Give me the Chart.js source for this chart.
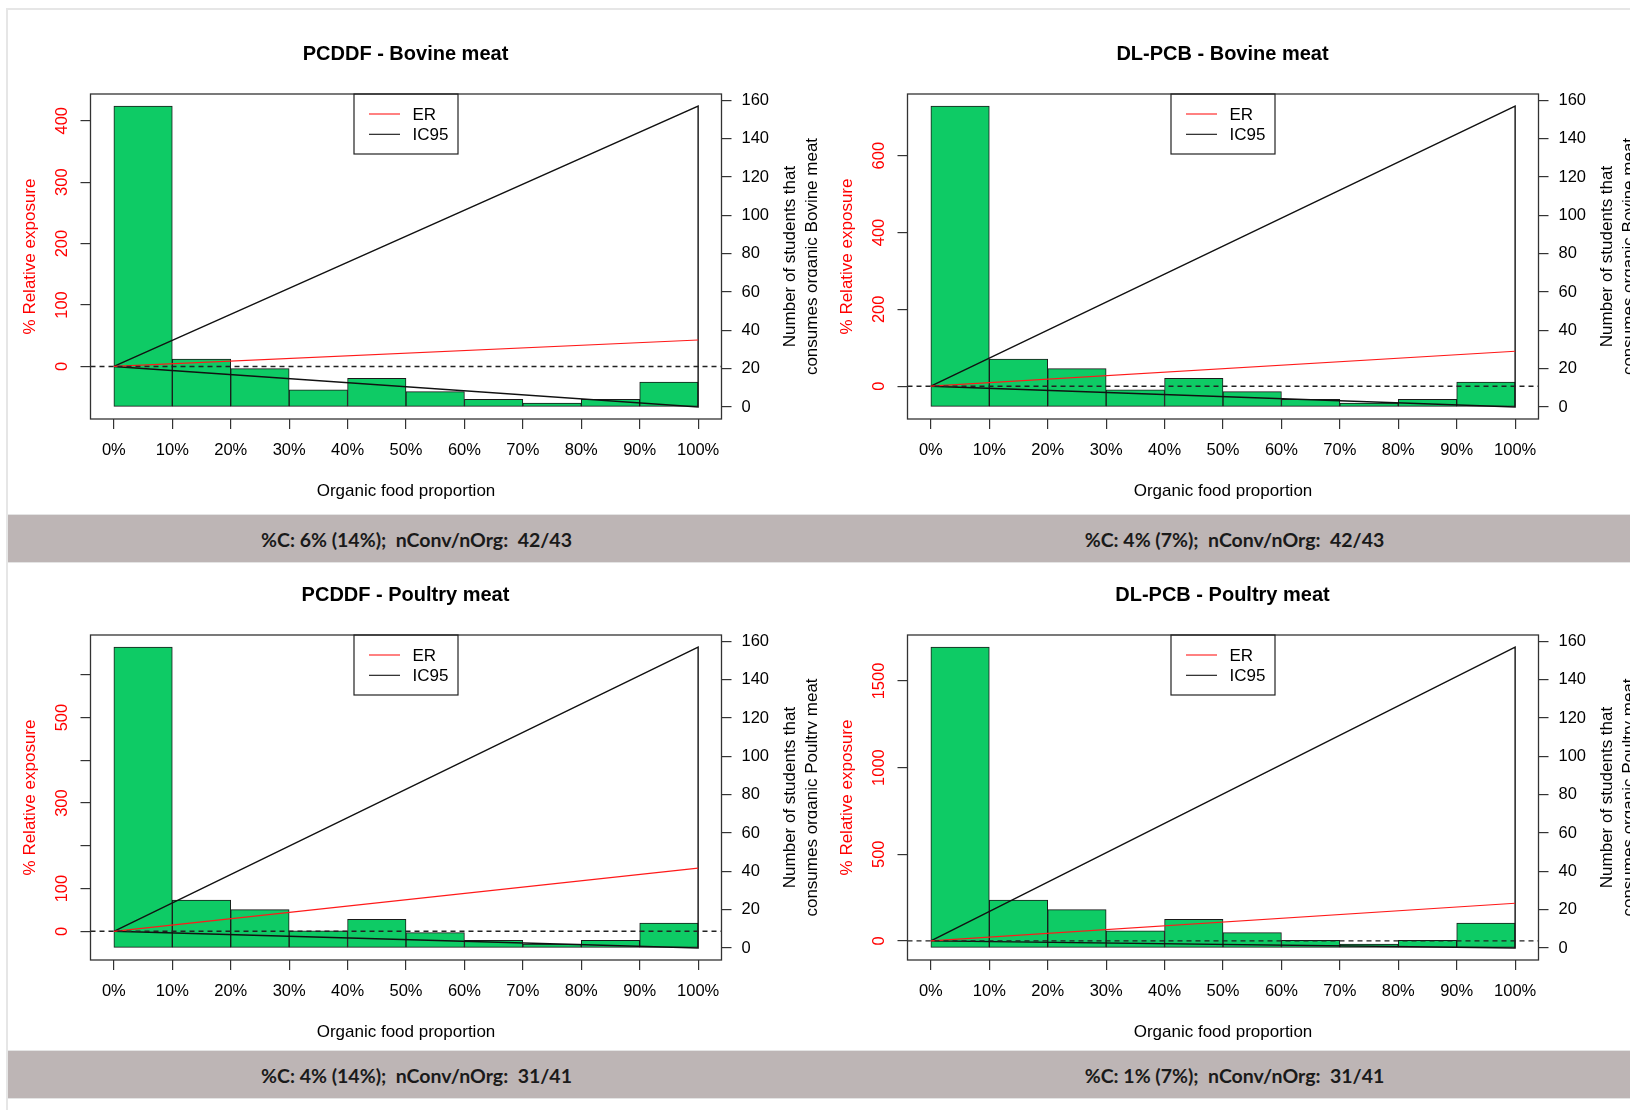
<!DOCTYPE html>
<html><head><meta charset="utf-8">
<script src="https://cdn.jsdelivr.net/npm/chart.js@4.4.1/dist/chart.umd.min.js"></script>
<style>
html,body{margin:0;padding:0;background:#fff;width:1630px;height:1110px;overflow:hidden;position:relative;}
.frame-top{position:absolute;left:6px;top:8px;width:1624px;height:2px;background:#e6e6e6;}
.frame-left{position:absolute;left:6px;top:8px;width:2px;height:1102px;background:#e6e6e6;}
.panel{position:absolute;width:817px;height:515px;z-index:1;}
.band{position:absolute;left:8px;width:1622px;background:#bdb5b5;border-top:1px solid #e4e4e4;border-bottom:1px solid #e4e4e4;z-index:2;}
.band span{position:absolute;top:50%;transform:translate(-50%,-50%);font-family:Lato,"Open Sans",sans-serif;font-weight:700;font-size:19.5px;color:#1a1a1a;white-space:pre;}
</style></head>
<body>
<div class="frame-top"></div><div class="frame-left"></div>
<canvas id="c0" class="panel" width="817" height="515" style="left:0;top:0"></canvas>
<canvas id="c1" class="panel" width="817" height="515" style="left:817px;top:0"></canvas>
<canvas id="c2" class="panel" width="817" height="515" style="left:0;top:541px"></canvas>
<canvas id="c3" class="panel" width="817" height="515" style="left:817px;top:541px"></canvas>
<div class="band" id="band0" style="top:514px;height:47px"></div>
<div class="band" id="band1" style="top:1050px;height:47px"></div>
<script>
// ---------- data ----------
const panelTitles = ['PCDDF - Bovine meat', 'DL-PCB - Bovine meat', 'PCDDF - Poultry meat', 'DL-PCB - Poultry meat'];
const foodNames = ['Bovine', 'Bovine', 'Poultry', 'Poultry'];
const binEdges = [0, 10, 20, 30, 40, 50, 60, 70, 80, 90, 100];
const xTickValues = [0, 10, 20, 30, 40, 50, 60, 70, 80, 90, 100];
const xTickLabels = ['0%', '10%', '20%', '30%', '40%', '50%', '60%', '70%', '80%', '90%', '100%'];
const studentsBovine = [157, 25, 20, 9, 15, 8, 4, 2, 4, 13];
const studentsPoultry = [157, 25, 20, 9, 15, 8, 4, 2, 4, 13];
const rightTickValues = [0, 20, 40, 60, 80, 100, 120, 140, 160];
const rightTickLabels = ['0', '20', '40', '60', '80', '100', '120', '140', '160'];
const lineX = [0, 100];
const erPcddfBovine = [0, 43];
const icUpperPcddfBovine = [0, 424];
const icLowerPcddfBovine = [0, -66];
const erPcbBovine = [0, 91];
const icUpperPcbBovine = [0, 729];
const icLowerPcbBovine = [0, -54];
const erPcddfPoultry = [0, 148];
const icUpperPcddfPoultry = [0, 665];
const icLowerPcddfPoultry = [0, -39];
const erPcbPoultry = [0, 217];
const icUpperPcbPoultry = [0, 1696];
const icLowerPcbPoultry = [0, -41];
const leftTicksPcddfBovine = [0, 100, 200, 300, 400];
const leftLabelsPcddfBovine = ['0', '100', '200', '300', '400'];
const leftTicksPcbBovine = [0, 200, 400, 600];
const leftLabelsPcbBovine = ['0', '200', '400', '600'];
const leftTicksPcddfPoultry = [0, 100, 200, 300, 400, 500, 600];
const leftLabelsPcddfPoultry = ['0', '100', '', '300', '', '500', ''];
const leftTicksPcbPoultry = [0, 500, 1000, 1500];
const leftLabelsPcbPoultry = ['0', '500', '1000', '1500'];
const legendLabels = ['ER', 'IC95'];
const xTitle = 'Organic food proportion';
const leftTitle = '% Relative exposure';
const summaryTexts = ['%C: 6% (14%);  nConv/nOrg:  42/43', '%C: 4% (7%);  nConv/nOrg:  42/43',
                      '%C: 4% (14%);  nConv/nOrg:  31/41', '%C: 1% (7%);  nConv/nOrg:  31/41'];

// ---------- setup ----------
const FONT = '"Liberation Sans", Arial, Helvetica, sans-serif';
Chart.defaults.font.family = FONT;
Chart.defaults.color = '#000';

const panels = [
  {er: erPcddfBovine, up: icUpperPcddfBovine, lo: icLowerPcddfBovine, counts: studentsBovine, lt: leftTicksPcddfBovine, ll: leftLabelsPcddfBovine},
  {er: erPcbBovine, up: icUpperPcbBovine, lo: icLowerPcbBovine, counts: studentsBovine, lt: leftTicksPcbBovine, ll: leftLabelsPcbBovine},
  {er: erPcddfPoultry, up: icUpperPcddfPoultry, lo: icLowerPcddfPoultry, counts: studentsPoultry, lt: leftTicksPcddfPoultry, ll: leftLabelsPcddfPoultry},
  {er: erPcbPoultry, up: icUpperPcbPoultry, lo: icLowerPcbPoultry, counts: studentsPoultry, lt: leftTicksPcbPoultry, ll: leftLabelsPcbPoultry}
];

const TICK_FONT = 16.5, TITLE_FONT = 17;
const measureCtx = document.createElement('canvas').getContext('2d');
measureCtx.font = TICK_FONT + 'px ' + FONT;

const decorPlugin = {
  id: 'decor',
  afterDatasetsDraw(chart, args, opts) {
    const {ctx, chartArea: a, scales} = chart;
    ctx.save();
    // dashed zero reference line
    const y0 = scales.y.getPixelForValue(0);
    ctx.strokeStyle = '#222'; ctx.lineWidth = 1.4; ctx.setLineDash([5, 4]);
    ctx.beginPath(); ctx.moveTo(a.left, y0); ctx.lineTo(a.right, y0); ctx.stroke();
    ctx.setLineDash([]);
    // plot box
    ctx.strokeStyle = '#333'; ctx.lineWidth = 1.3;
    ctx.strokeRect(a.left, a.top, a.right - a.left, a.bottom - a.top);
    // legend box (top centre, inside)
    const cx = (a.left + a.right) / 2;
    const bx = cx - 52, by = a.top, bw = 104, bh = 60;
    ctx.lineWidth = 1.2; ctx.strokeStyle = '#222';
    ctx.strokeRect(bx, by, bw, bh);
    const lineSets = chart.data.datasets.filter(d => d.type === 'line');
    ctx.font = TITLE_FONT + 'px ' + FONT; ctx.textBaseline = 'middle'; ctx.textAlign = 'left';
    lineSets.forEach((d, i) => {
      const ly = by + 20 + i * 20.3;
      ctx.strokeStyle = d.borderColor; ctx.lineWidth = 1.1;
      ctx.beginPath(); ctx.moveTo(bx + 15, ly); ctx.lineTo(bx + 46, ly); ctx.stroke();
      ctx.fillStyle = '#000';
      ctx.fillText(d.label, bx + 58.5, ly + 1);
    });
    ctx.restore();
  },
  afterDraw(chart, args, opts) {
    const {ctx, chartArea: a} = chart;
    ctx.save();
    ctx.font = TITLE_FONT + 'px ' + FONT; ctx.fillStyle = '#000';
    ctx.textAlign = 'center'; ctx.textBaseline = 'middle';
    const cy = (a.top + a.bottom) / 2;
    opts.lines.forEach((t, i) => {
      ctx.save();
      ctx.translate(a.right + 69 + i * 22, cy);
      ctx.rotate(-Math.PI / 2);
      ctx.fillText(t, 0, 0);
      ctx.restore();
    });
    ctx.restore();
  }
};

panels.forEach((p, k) => {
  const allLine = [...p.er, ...p.up, ...p.lo];
  const lmin = Math.min(...allLine), lmax = Math.max(...allLine);
  const lpad = 0.04 * (lmax - lmin);
  const cmax = Math.max(...p.counts);
  const cpad = 0.04 * cmax;
  const widest = Math.max(...p.ll.map(s => measureCtx.measureText(s).width));
  const leftPad = 18.5 - widest / 2;

  const bars = p.counts.map((c, i) => ({x: (binEdges[i] + binEdges[i + 1]) / 2, y: c}));
  const erPts = lineX.map((x, i) => ({x, y: p.er[i]}));
  const icPts = [
    {x: lineX[0], y: p.up[0]}, {x: lineX[1], y: p.up[1]},
    {x: lineX[1], y: p.lo[1]}, {x: lineX[0], y: p.lo[0]}
  ];

  new Chart(document.getElementById('c' + k), {
    type: 'bar',
    data: {
      datasets: [
        {type: 'line', label: legendLabels[0], data: erPts, borderColor: '#ff1a1a', borderWidth: 1.2,
         pointRadius: 0, tension: 0, fill: false, yAxisID: 'y', xAxisID: 'x', order: 1},
        {type: 'line', label: legendLabels[1], data: icPts, borderColor: '#111', borderWidth: 1.4,
         pointRadius: 0, tension: 0, fill: false, yAxisID: 'y', xAxisID: 'x', order: 1},
        {type: 'bar', label: 'students', data: bars, backgroundColor: '#0ecb65', borderColor: '#1a1a1a',
         borderWidth: 1, borderSkipped: false, barPercentage: 1, categoryPercentage: 1,
         yAxisID: 'y2', xAxisID: 'x', order: 2}
      ]
    },
    options: {
      responsive: false, animation: false, devicePixelRatio: 1,
      layout: {padding: {left: 0, right: 6, top: 0, bottom: 0}, autoPadding: false},
      plugins: {
        legend: {display: false}, tooltip: {enabled: false},
        title: {display: true, text: panelTitles[k], color: '#000',
                font: {size: 20, weight: 'bold', family: FONT}, padding: {top: 42, bottom: 28}},
        decor: {lines: ['Number of students that', 'consumes organic ' + foodNames[k] + ' meat']}
      },
      scales: {
        x: {
          type: 'linear', position: 'bottom', min: -4, max: 104, offset: false,
          afterBuildTicks: s => { s.ticks = xTickValues.map(v => ({value: v})); },
          afterFit: s => { s.height = 96; },
          ticks: {callback: (v, i) => xTickLabels[i], font: {size: TICK_FONT}, color: '#000',
                  padding: 12, maxRotation: 0, minRotation: 0, autoSkip: false},
          grid: {drawOnChartArea: false, drawTicks: true, tickLength: 10, color: '#333', lineWidth: 1.2, offset: false},
          border: {display: false},
          title: {display: true, text: xTitle, color: '#000', font: {size: TITLE_FONT}, padding: {top: 0, bottom: 13}}
        },
        y: {
          type: 'linear', position: 'left', min: lmin - lpad, max: lmax + lpad,
          afterBuildTicks: s => { s.ticks = p.lt.map(v => ({value: v})); },
          afterFit: s => { s.width = 90.5; },
          ticks: {callback: (v, i) => p.ll[i], font: {size: TICK_FONT}, color: '#ff0000',
                  minRotation: 90, maxRotation: 90, crossAlign: 'center', padding: leftPad, autoSkip: false},
          grid: {drawOnChartArea: false, drawTicks: true, tickLength: 10, color: '#333', lineWidth: 1.2},
          border: {display: false},
          title: {display: true, text: leftTitle, color: '#ff0000', font: {size: TITLE_FONT}, padding: {top: 20.5, bottom: 0}}
        },
        y2: {
          type: 'linear', position: 'right', min: -cpad, max: cmax + cpad,
          afterBuildTicks: s => { s.ticks = rightTickValues.map(v => ({value: v})); },
          afterFit: s => { s.width = 89.5; },
          ticks: {callback: (v, i) => rightTickLabels[i], font: {size: TICK_FONT}, color: '#000', padding: 10, autoSkip: false},
          grid: {drawOnChartArea: false, drawTicks: true, tickLength: 10, color: '#333', lineWidth: 1.2},
          border: {display: false}
        }
      }
    },
    plugins: [decorPlugin]
  });
});

// summary bands
const bandCentres = [408.5, 1226.5];
[0, 1].forEach(r => {
  const band = document.getElementById('band' + r);
  [0, 1].forEach(c => {
    const s = document.createElement('span');
    s.textContent = summaryTexts[r * 2 + c];
    s.style.left = bandCentres[c] + 'px';
    band.appendChild(s);
  });
});
</script>
</body></html>
